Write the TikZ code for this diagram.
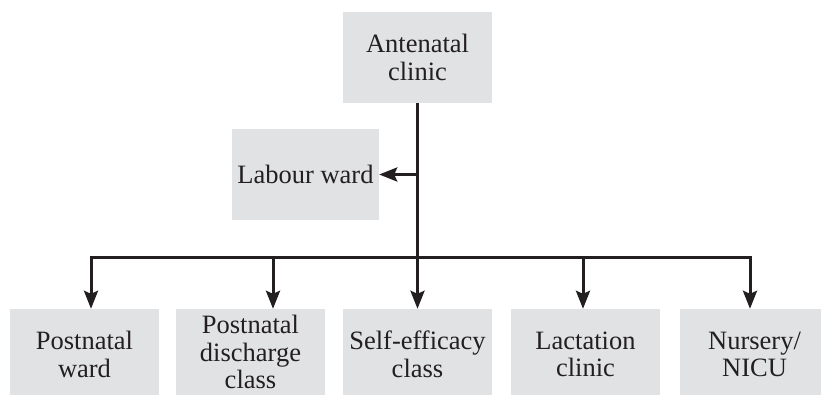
\documentclass[tikz,border=0pt]{standalone}
\usepackage{fontspec}
\setmainfont{Liberation Serif}
\usetikzlibrary{arrows.meta}
\definecolor{boxgray}{HTML}{E1E2E4}
\definecolor{ink}{HTML}{231F20}
\tikzset{
  box/.style={fill=boxgray, inner sep=0pt, minimum width=149pt, minimum height=91pt,
    align=center, font=\fontsize{26.5}{27.5}\selectfont, text=ink},
  conn/.style={draw=ink, line width=3pt},
  arr/.style={conn, -{Stealth[length=18pt,width=14pt,inset=3pt]}}
}
\begin{document}
\begin{tikzpicture}[x=1pt,y=-1pt]
\useasboundingbox (0,0) rectangle (821,394);
\clip (0,0) rectangle (821,394);
\node[box] (ante) at (417.5,57.5) {Antenatal\\clinic};
\node[box, minimum width=147pt] (labour) at (305.5,174.5) {Labour ward};
\node[box] (p1) at (84.5,354.5) {Postnatal\\ward};
\node[box, minimum height=86pt] (p2) at (250.5,352) {Postnatal\\discharge\\class};
\node[box] (p3) at (417.5,354.5) {Self-efficacy\\class};
\node[box] (p4) at (585.5,354.5) {Lactation\\clinic};
\node[box] (p5) at (754.5,354.5) {Nursery/\\NICU};
\coordinate (j) at (ante.south |- 0,257);
\coordinate (a1) at (91,257);
\coordinate (a2) at (273,257);
\coordinate (a3) at (ante.south |- 0,257);
\coordinate (a4) at (583,257);
\coordinate (a5) at (750,257);
\draw[conn] (ante.south) -- (j);
\draw[arr] (labour.east -| ante.south) -- (labour.east);
\draw[conn, line cap=rect] (a1) -- (a5);
\draw[arr] (a1) -- (a1 |- p1.north);
\draw[arr] (a2) -- (a2 |- p2.north);
\draw[arr] (a3) -- (a3 |- p3.north);
\draw[arr] (a4) -- (a4 |- p4.north);
\draw[arr] (a5) -- (a5 |- p5.north);
\end{tikzpicture}
\end{document}
